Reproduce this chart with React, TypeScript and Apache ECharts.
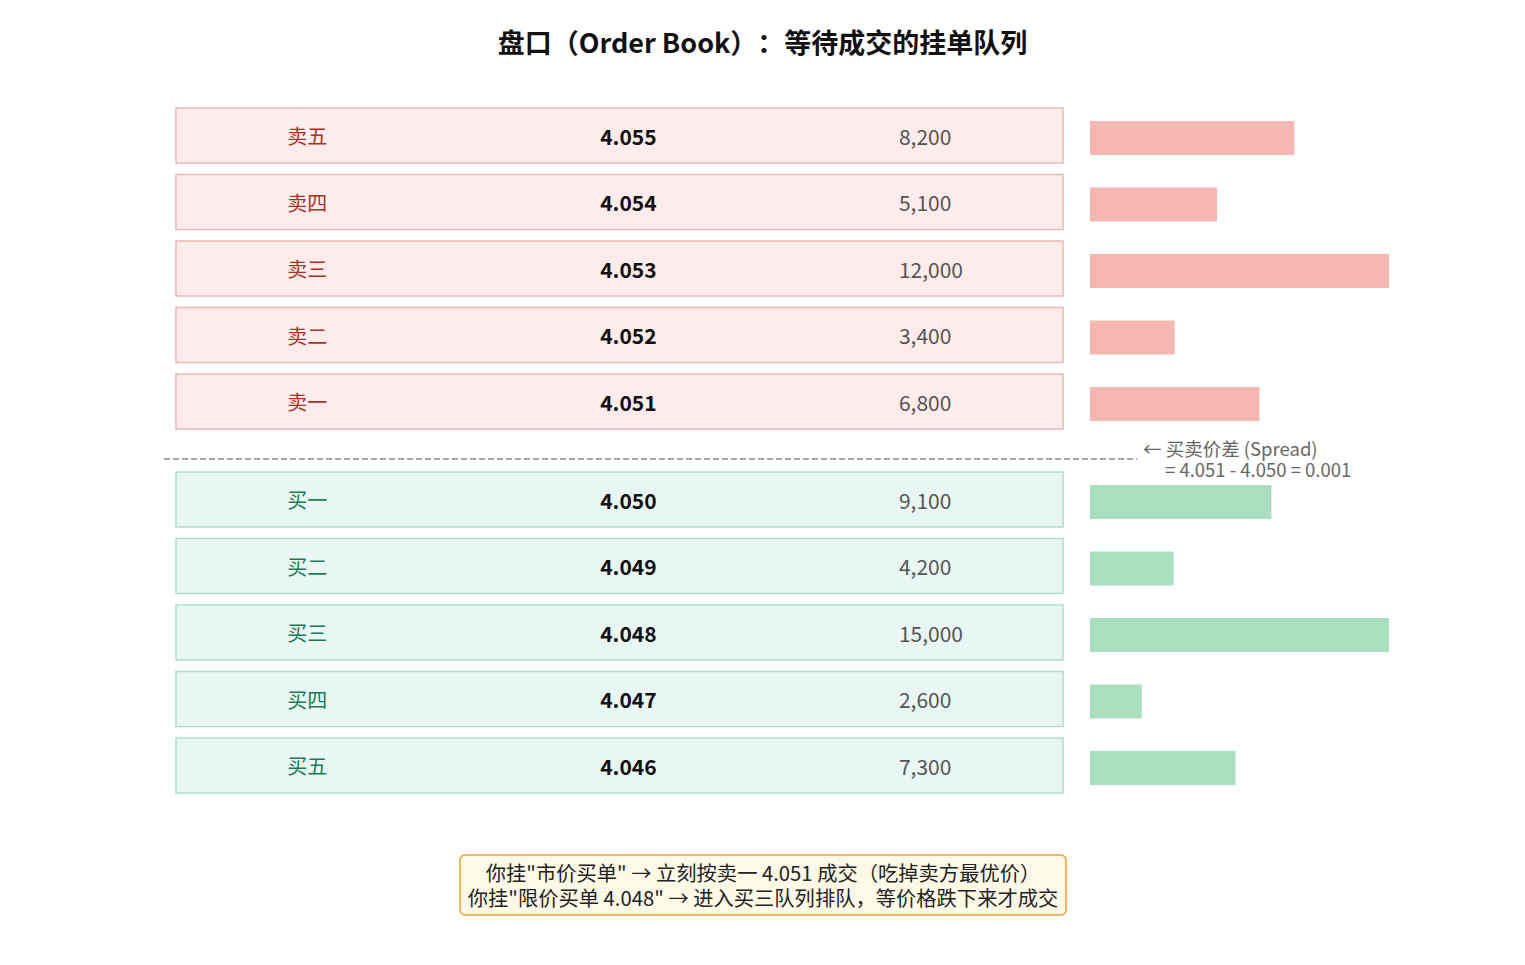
import React, { useEffect, useRef } from "react";
import * as echarts from "echarts";

const titleText = "盘口（Order Book）：等待成交的挂单队列";
const sellLabels = ["卖五", "卖四", "卖三", "卖二", "卖一"];
const sellPrices = [4.055, 4.054, 4.053, 4.052, 4.051];
const sellVolumes = [8200, 5100, 12000, 3400, 6800];
const buyLabels = ["买一", "买二", "买三", "买四", "买五"];
const buyPrices = [4.05, 4.049, 4.048, 4.047, 4.046];
const buyVolumes = [9100, 4200, 15000, 2600, 7300];
const spreadLines = ["← 买卖价差 (Spread)", "= 4.051 - 4.050 = 0.001"];
const noteLines = [
  '你挂"市价买单" → 立刻按卖一 4.051 成交（吃掉卖方最优价）',
  '你挂"限价买单 4.048" → 进入买三队列排队，等价格跌下来才成交',
];

const FONT = '"Noto Sans CJK SC", "Noto Sans", sans-serif';

function makeRowRenderer(
  labels: string[],
  prices: number[],
  volumes: number[],
  fill: string,
  stroke: string,
  labelColor: string
) {
  return (params: any, api: any) => {
    const idx = api.value(0);
    const i = params.dataIndex;
    const p0 = api.coord([0, idx]);
    const p1 = api.coord([1, idx]);
    const band = api.size([0, 1])[1];
    const h = band * 0.827;
    const cy = p0[1];
    const xAt = (f: number) => api.coord([f, idx])[0];
    return {
      type: "group",
      children: [
        {
          type: "rect",
          shape: { x: p0[0], y: cy - h / 2, width: p1[0] - p0[0], height: h },
          style: { fill, stroke, lineWidth: 1.5 },
        },
        {
          type: "text",
          x: xAt(0.148),
          y: cy,
          style: {
            text: labels[i],
            fill: labelColor,
            font: `20px ${FONT}`,
            align: "center",
            verticalAlign: "middle",
          },
        },
        {
          type: "text",
          x: xAt(0.51),
          y: cy,
          style: {
            text: prices[i].toFixed(3),
            fill: "#111",
            font: `bold 21px ${FONT}`,
            align: "center",
            verticalAlign: "middle",
          },
        },
        {
          type: "text",
          x: xAt(0.815),
          y: cy,
          style: {
            text: volumes[i].toLocaleString("en-US"),
            fill: "#555",
            font: `21px ${FONT}`,
            align: "left",
            verticalAlign: "middle",
          },
        },
      ],
    };
  };
}

export default function App() {
  const ref = useRef<HTMLDivElement>(null);
  useEffect(() => {
    document.body.style.margin = "0";
    document.body.style.overflow = "hidden";
    const chart = echarts.init(ref.current!, undefined, { renderer: "svg" });
    const sellTop = 102.25;
    const buyTop = 466.25;
    const gh = 332.5;
    const barShift = 2.5;
    const grids = [
      { left: 176, width: 887, top: sellTop, height: gh },
      { left: 176, width: 887, top: buyTop, height: gh },
      { left: 1090, width: 299, top: sellTop + barShift, height: gh },
      { left: 1090, width: 299, top: buyTop + barShift, height: gh },
    ];
    const xAxes = [
      { type: "value", gridIndex: 0, min: 0, max: 1, show: false },
      { type: "value", gridIndex: 1, min: 0, max: 1, show: false },
      { type: "value", gridIndex: 2, min: 0, max: "dataMax", show: false },
      { type: "value", gridIndex: 3, min: 0, max: "dataMax", show: false },
    ];
    const yAxes = [
      { type: "category", gridIndex: 0, data: sellLabels, inverse: true, show: false },
      { type: "category", gridIndex: 1, data: buyLabels, inverse: true, show: false },
      { type: "category", gridIndex: 2, data: sellLabels, inverse: true, show: false },
      { type: "category", gridIndex: 3, data: buyLabels, inverse: true, show: false },
    ];
    chart.setOption({
      animation: false,
      backgroundColor: "#ffffff",
      title: {
        text: titleText,
        left: "center",
        top: 23,
        textStyle: { fontFamily: FONT, fontSize: 27, fontWeight: "bold", color: "#111" },
      },
      grid: grids,
      xAxis: xAxes,
      yAxis: yAxes,
      series: [
        {
          type: "custom",
          xAxisIndex: 0,
          yAxisIndex: 0,
          data: sellLabels.map((_, i) => [i]),
          renderItem: makeRowRenderer(sellLabels, sellPrices, sellVolumes, "#fdeceb", "#e8b9b6", "#a93226"),
        },
        {
          type: "custom",
          xAxisIndex: 1,
          yAxisIndex: 1,
          data: buyLabels.map((_, i) => [i]),
          renderItem: makeRowRenderer(buyLabels, buyPrices, buyVolumes, "#e8f7f3", "#b0ddd0", "#1e7a55"),
        },
        {
          type: "bar",
          xAxisIndex: 2,
          yAxisIndex: 2,
          data: sellVolumes,
          barWidth: 34,
          itemStyle: { color: "#f5b7b1" },
        },
        {
          type: "bar",
          xAxisIndex: 3,
          yAxisIndex: 3,
          data: buyVolumes,
          barWidth: 34,
          itemStyle: { color: "#a9dfbf" },
        },
      ],
      graphic: [
        {
          type: "line",
          shape: { x1: 164, y1: 459, x2: 1137, y2: 459 },
          style: { stroke: "#888", lineWidth: 1.3, lineDash: [6, 3] },
        },
        {
          type: "text",
          x: 1143,
          y: 437,
          style: {
            text: `{a|${spreadLines[0]}}\n{b|${spreadLines[1]}}`,
            fill: "#666",
            font: `18.5px ${FONT}`,
            lineHeight: 21,
            verticalAlign: "top",
            rich: {
              a: { fill: "#666", fontSize: 18.5, fontFamily: FONT, lineHeight: 21 },
              b: { fill: "#666", fontSize: 18.5, fontFamily: FONT, lineHeight: 21, padding: [0, 0, 0, 22] },
            },
          },
        },
        {
          type: "rect",
          shape: { x: 460, y: 855, width: 606, height: 60, r: 5 },
          style: { fill: "#fef9e7", stroke: "#f0a030", lineWidth: 1.5 },
        },
        {
          type: "text",
          x: 763,
          y: 884.5,
          style: {
            text: noteLines.join("\n"),
            fill: "#222",
            font: `20.3px ${FONT}`,
            lineHeight: 25,
            align: "center",
            verticalAlign: "middle",
          },
        },
      ],
    });
    return () => chart.dispose();
  }, []);
  return (
    <div
      ref={ref}
      style={{ width: 1525, height: 965, ...({ textSpacingTrim: "space-all" } as any) }}
    />
  );
}
